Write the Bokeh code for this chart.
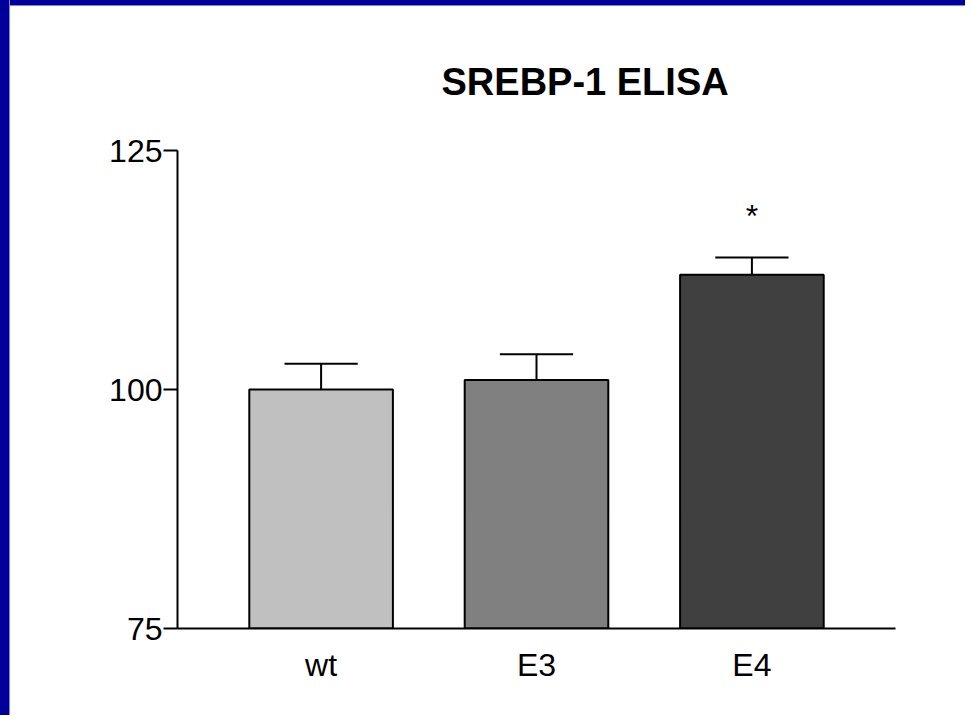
from bokeh.plotting import figure
from bokeh.models import FixedTicker, ColumnDataSource, InlineStyleSheet
from bokeh.core.properties import value
from bokeh.embed import file_html
from bokeh.resources import INLINE

categories = ["wt", "E3", "E4"]
means = [100.0, 101.0, 112.0]
errors = [2.7, 2.7, 1.8]
colors = ["#C0C0C0", "#808080", "#404040"]
y_ticks = [75, 100, 125]
significance = ["", "", "*"]

xs = list(range(len(categories)))
src = ColumnDataSource(dict(
    x=xs, top=means, err_top=[m + e for m, e in zip(means, errors)],
    cap_l=[x - 0.17 for x in xs], cap_r=[x + 0.17 for x in xs],
    color=colors, star=significance, star_y=[m + e + 4.3 for m, e in zip(means, errors)],
))

W, H = 965, 715
p = figure(width=W, height=H, output_backend="svg", toolbar_location=None,
           x_range=(-2/3, 8/3), y_range=(75, 125),
           min_border_left=177, min_border_right=W - 895,
           min_border_top=150, min_border_bottom=H - 628,
           title="SREBP-1 ELISA")
css = (":host { background: linear-gradient(to right, #000099 9px, #8080ee 9px, #8080ee 10px, transparent 10px),"
       " linear-gradient(to bottom, #000099 5px, #8080ee 5px, #8080ee 6px, white 6px); }")
p.stylesheets = [InlineStyleSheet(css=css)]
p.outline_line_color = None
p.grid.visible = False
p.background_fill_color = "white"
p.border_fill_color = None

p.title.align = "left"
p.title.offset = 264
p.title.standoff = 95
p.title.text_font = "Liberation Sans"
p.title.text_font_style = "bold"
p.title.text_font_size = "38px"
p.title.text_color = "black"

p.vbar(x="x", width=2/3, bottom=75, top="top", source=src,
       fill_color="color", line_color="black", line_width=2)
p.segment(x0="x", y0="top", x1="x", y1="err_top", source=src,
          line_color="black", line_width=2)
p.segment(x0="cap_l", y0="err_top", x1="cap_r", y1="err_top", source=src,
          line_color="black", line_width=2)
p.text(x="x", y="star_y", text="star", source=src, text_align="center",
       text_baseline="middle", text_font=value("Liberation Sans"),
       text_font_size="32px", text_color="black")

font = "Liberation Sans"
p.yaxis.ticker = FixedTicker(ticks=y_ticks)
p.yaxis.minor_tick_line_color = None
p.yaxis.major_tick_out = 14
p.yaxis.major_tick_in = 0
p.yaxis.major_tick_line_width = 2
p.yaxis.axis_line_width = 2
p.yaxis.major_label_standoff = 1
p.yaxis.major_label_text_font = font
p.yaxis.major_label_text_font_size = "32px"
p.yaxis.major_label_text_color = "black"

p.xaxis.ticker = FixedTicker(ticks=xs)
p.xaxis.major_label_overrides = {x: c for x, c in zip(xs, categories)}
p.xaxis.minor_tick_line_color = None
p.xaxis.major_tick_out = 0
p.xaxis.major_tick_in = 0
p.xaxis.axis_line_width = 2
p.xaxis.major_label_standoff = 18
p.xaxis.major_label_text_font = font
p.xaxis.major_label_text_font_size = "32px"
p.xaxis.major_label_text_color = "black"

open("out.html", "w").write(file_html(p, INLINE))
